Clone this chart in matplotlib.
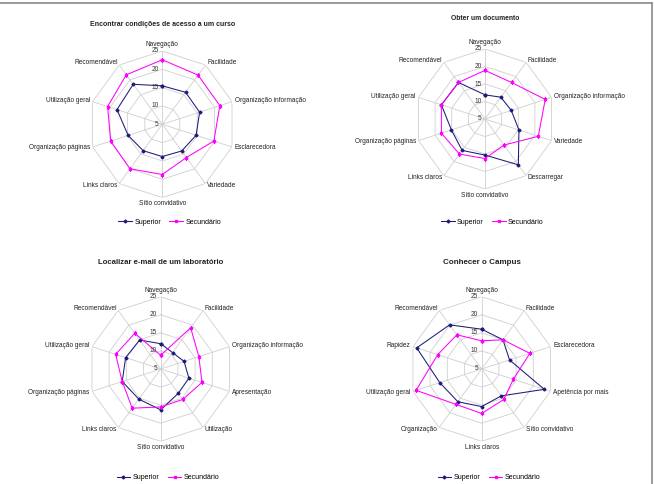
import numpy as np
import matplotlib
matplotlib.use("Agg")
import matplotlib.pyplot as plt
from matplotlib.lines import Line2D

plt.rcParams['font.family'] = ['Liberation Sans', 'DejaVu Sans']

# ---------------- data ----------------
titles = ["Encontrar condições de acesso a um curso", "Obter um documento",
          "Localizar e-mail de um laboratório", "Conhecer o Campus"]
series_names = ["Superior", "Secundário"]
radial_ticks = [5, 10, 15, 20, 25]

cats1 = ["Navegação", "Facilidade", "Organização informação", "Esclarecedora", "Variedade",
         "Sítio convidativo", "Links claros", "Organização páginas", "Utilização geral", "Recomendável"]
sup1 = [15.5, 15.8, 15.7, 14.7, 14.0, 13.8, 13.9, 14.8, 18.0, 18.5]
sec1 = [22.6, 21.6, 21.5, 19.8, 16.2, 18.7, 20.0, 19.8, 20.7, 21.7]

cats2 = ["Navegação", "Facilidade", "Organização informação", "Variedade", "Descarregar",
         "Sítio convidativo", "Links claros", "Organização páginas", "Utilização geral", "Recomendável"]
sup2 = [11.9, 12.7, 12.9, 15.2, 21.2, 15.3, 16.1, 15.1, 18.1, 17.9]
sec2 = [18.9, 17.9, 23.1, 21.0, 14.2, 16.3, 17.4, 18.1, 18.1, 17.9]

cats3 = ["Navegação", "Facilidade", "Organização informação", "Apresentação", "Utilização",
         "Sítio convidativo", "Links claros", "Organização páginas", "Utilização geral", "Recomendável"]
sup3 = [12.0, 10.6, 11.8, 13.2, 13.3, 16.3, 15.3, 16.2, 15.2, 14.9]
sec3 = [8.8, 19.1, 16.1, 17.0, 15.4, 15.5, 18.4, 16.2, 18.1, 17.2]

cats4 = ["Navegação", "Facilidade", "Esclarecedora", "Apetência por mais", "Sítio convidativo",
         "Links claros", "Organização", "Utilização geral", "Rapidez", "Recomendável"]
sup4 = [16.0, 15.0, 13.1, 23.2, 14.2, 15.4, 16.2, 17.2, 23.9, 20.1]
sec4 = [12.8, 15.0, 19.0, 14.2, 15.4, 17.3, 17.1, 24.1, 17.8, 16.7]

# ---------------- layout (pixels) ----------------
W, H = 654, 484
panels = [
    dict(cats=cats1, sup=sup1, sec=sec1, title=titles[0], c=(162.3, 124.3), R=73.3, ty=24, leg=222, tfs=5.0),
    dict(cats=cats2, sup=sup2, sec=sec2, title=titles[1], c=(485.0, 119.0), R=70.0, ty=19, leg=222, tfs=4.9),
    dict(cats=cats3, sup=sup3, sec=sec3, title=titles[2], c=(160.7, 369.0), R=72.3, ty=263, leg=477.5, tfs=5.6),
    dict(cats=cats4, sup=sup4, sec=sec4, title=titles[3], c=(481.7, 369.0), R=72.3, ty=263, leg=477.5, tfs=5.8),
]

navy = "#1c1c78"
magenta = "#ff00ff"
gridc = "#cfcfcf"
fs = 4.7

fig = plt.figure(figsize=(W / 100, H / 100), dpi=100)
fig.patch.set_facecolor("white")

for p in panels:
    cx, cy = p["c"]
    R = p["R"]
    ax = fig.add_axes([(cx - R) / W, 1 - (cy + R) / H, 2 * R / W, 2 * R / H], projection="polar")
    ax.set_theta_zero_location("N")
    ax.set_theta_direction(-1)
    ax.set_ylim(5, 25)
    ax.grid(False)
    ax.spines["polar"].set_visible(False)
    ax.set_xticks([])
    ax.set_yticks([])
    ax.patch.set_alpha(0)

    n = len(p["cats"])
    th = np.linspace(0, 2 * np.pi, n, endpoint=False)
    thc = np.concatenate([th, th[:1]])

    for r in radial_ticks[1:]:
        ax.plot(thc, [r] * (n + 1), color=gridc, lw=0.6, zorder=1)
    for t in th:
        ax.plot([t, t], [5, 25], color=gridc, lw=0.6, zorder=1)

    for v in radial_ticks:
        ax.annotate(str(v), xy=(0, v), xytext=(-2.5, 0), textcoords="offset points",
                    ha="right", va="center", fontsize=fs, color="#333333", zorder=5)

    for t, lab in zip(th, p["cats"]):
        s, c = np.sin(t), np.cos(t)
        ha = "left" if s > 0.1 else ("right" if s < -0.1 else "center")
        va = "bottom" if c > 0.9 else ("top" if c < -0.9 else "center")
        ax.annotate(lab, xy=(t, 25), xytext=(2.0 * s, 2.0 * c), textcoords="offset points",
                    ha=ha, va=va, fontsize=fs, color="#222222", annotation_clip=False)

    sup = list(p["sup"]) + [p["sup"][0]]
    sec = list(p["sec"]) + [p["sec"][0]]
    ax.plot(thc, sup, color=navy, lw=0.75, marker="D", markersize=1.5,
            label=series_names[0], zorder=3)
    ax.plot(thc, sec, color=magenta, lw=0.75, marker="s", markersize=2.1,
            label=series_names[1], zorder=4)

    ly = 0.5 - (p["leg"] - cy) / (2 * R)
    ax.legend(loc="center", bbox_to_anchor=(0.55, ly), ncol=2,
              frameon=False, fontsize=fs + 0.3, handlelength=2.0, columnspacing=1.2,
              handletextpad=0.3, borderaxespad=0)

    fig.text(cx / W, 1 - p["ty"] / H, p["title"], ha="center", va="center",
             fontsize=p["tfs"], fontweight="bold", color="#222222")

# outer frame lines (top and right)
fig.add_artist(Line2D([0, 652 / W], [1 - 2.5 / H, 1 - 2.5 / H], color="#8a8a8a", lw=1.2))
fig.add_artist(Line2D([652 / W, 652 / W], [0, 1 - 2.5 / H], color="#8a8a8a", lw=1.2))

fig.savefig("out.png", dpi=100)
